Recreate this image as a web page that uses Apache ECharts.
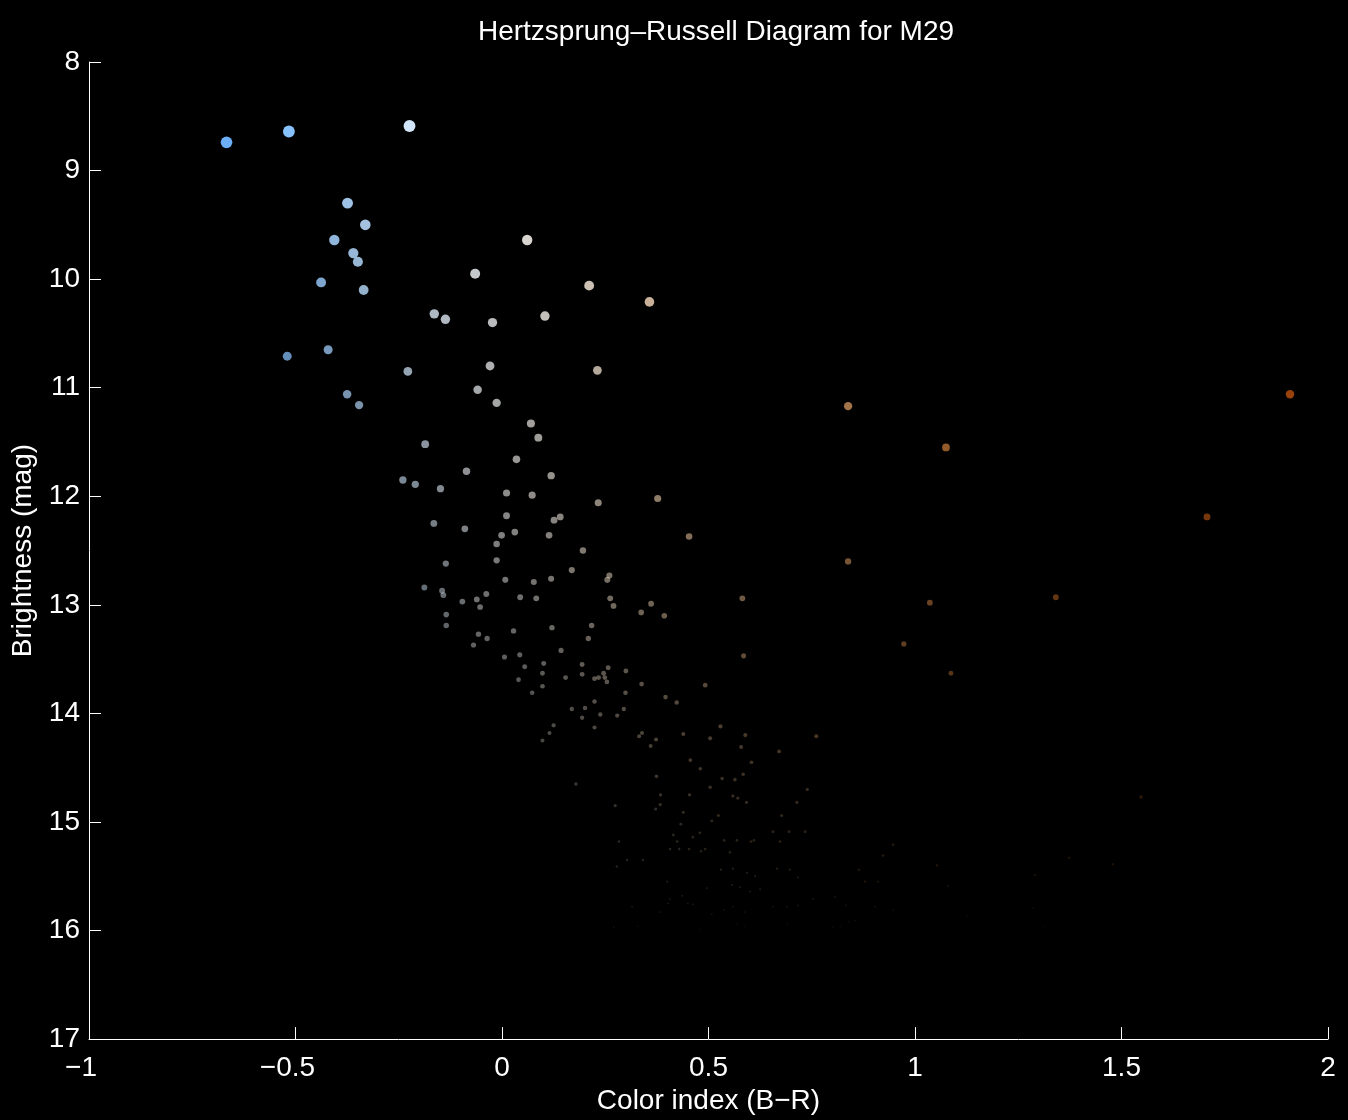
<!DOCTYPE html>
<html>
<head>
<meta charset="utf-8">
<script src="https://cdn.jsdelivr.net/npm/echarts@6/dist/echarts.min.js"></script>
<style>
html,body{margin:0;padding:0;background:#000;}
#chart{width:1348px;height:1120px;}
</style>
</head>
<body>
<div id="chart"></div>
<script>
// [B-R colour index, brightness (mag)]
const starsBright = [
  [-0.667,8.74],[-0.516,8.64],[-0.224,8.59],[-0.374,9.30],[-0.331,9.50],[-0.406,9.64],
  [-0.360,9.76],[-0.349,9.84],[-0.438,10.03],[-0.335,10.10],[0.061,9.64],[-0.065,9.95],
  [0.211,10.06],[0.357,10.21],[-0.164,10.32],[-0.137,10.37],[-0.023,10.40],[0.104,10.34],
  [-0.520,10.71],[-0.421,10.65],[-0.228,10.85],[-0.029,10.80],[0.231,10.84],[-0.375,11.06],
  [-0.346,11.16],[-0.059,11.02],[-0.013,11.14],[0.070,11.33],[0.088,11.46],[-0.186,11.52],
  [0.838,11.17],[1.075,11.55],[1.908,11.06],[1.707,12.19]
];
const starsMid = [
  [0.035,11.66],[-0.086,11.77],[0.119,11.81],[-0.240,11.85],[-0.210,11.89],[-0.149,11.93],
  [0.011,11.97],[0.073,11.99],[0.233,12.06],[0.377,12.02],[-0.165,12.25],[0.011,12.18],
  [0.141,12.19],[0.126,12.22],[-0.090,12.30],[-0.001,12.36],[0.031,12.33],[0.114,12.36],
  [0.453,12.37],[-0.013,12.44],[0.196,12.50],[-0.136,12.62],[-0.013,12.59],[0.169,12.68],
  [0.260,12.73],[0.255,12.77],[0.008,12.77],[0.077,12.79],[0.119,12.76],[-0.188,12.84],
  [-0.145,12.87],[-0.142,12.91],[-0.038,12.90],[-0.061,12.95],[-0.096,12.97],[-0.053,13.02],
  [0.044,12.93],[0.083,12.94],[0.262,12.94],[0.270,13.01],[0.361,12.99],[0.393,13.10],
  [0.337,13.07],[0.582,12.94],[-0.135,13.09],[-0.135,13.19],[-0.057,13.27],[-0.036,13.31],
  [-0.069,13.37],[0.028,13.24],[0.121,13.21],[0.217,13.19],[0.209,13.31],[0.585,13.47],
  [0.838,12.60],[1.036,12.98],[1.341,12.93],[0.973,13.36],[1.087,13.63]
];
const starsFaint = [
  [0.143,13.42],[0.006,13.48],[0.043,13.46],[0.055,13.57],[0.101,13.54],[0.098,13.63],
  [0.040,13.69],[0.098,13.75],[0.073,13.81],[0.154,13.67],[0.194,13.55],[0.194,13.64],
  [0.224,13.68],[0.234,13.67],[0.246,13.63],[0.249,13.67],[0.254,13.71],[0.257,13.58],
  [0.300,13.61],[0.299,13.81],[0.338,13.73],[0.396,13.85],[0.492,13.74],[0.423,13.90],
  [0.295,13.96],[0.279,14.02],[0.238,14.01],[0.224,13.89],[0.224,14.13],[0.201,13.95],
  [0.194,14.04],[0.169,13.96],[0.125,14.11],[0.115,14.18],[0.098,14.25],[0.529,14.12],
  [0.439,14.19],[0.504,14.23],[0.589,14.20],[0.579,14.31],[0.671,14.35],[0.761,14.21],
  [0.339,14.18],[0.332,14.21],[0.373,14.24],[0.360,14.30],[0.456,14.43],[0.480,14.51],
  [0.604,14.45],[0.584,14.56],[0.564,14.61],[0.533,14.60],[0.504,14.68],[0.374,14.58],
  [0.384,14.75],[0.383,14.84],[0.372,14.88],[0.454,14.75],[0.559,14.76],[0.571,14.78],
  [0.592,14.82],[0.739,14.70],[0.714,14.82],[0.677,14.94],[0.524,14.94],[0.439,14.91],
  [0.274,14.85],[0.179,14.65],[1.547,14.77]
];
const starsDim = [
  [0.433,15.02],[0.415,15.12],[0.424,15.18],[0.462,15.14],[0.479,15.10],[0.508,14.99],
  [0.407,15.25],[0.429,15.25],[0.453,15.25],[0.482,15.27],[0.492,15.25],[0.538,15.17],
  [0.569,15.17],[0.603,15.18],[0.610,15.17],[0.552,15.28],[0.656,15.09],[0.673,15.18],
  [0.695,15.09],[0.734,15.09],[0.283,15.18],[0.303,15.35],[0.341,15.35],[0.278,15.41],
  [0.559,15.43],[0.530,15.44],[0.593,15.47],[0.613,15.50],[0.666,15.43],[0.697,15.44],
  [0.717,15.51],[0.400,15.55],[0.496,15.61],[0.557,15.58],[0.576,15.60],[0.600,15.64],
  [0.625,15.62],[0.864,15.44],[0.879,15.55],[0.407,15.71],[0.436,15.68],[0.462,15.76],
  [0.508,15.85],[0.559,15.78],[0.588,15.83],[0.656,15.78],[0.690,15.78],[0.717,15.77],
  [0.753,15.71],[0.806,15.69],[0.833,15.77],[0.903,15.78],[0.315,15.78],[0.383,15.83],
  [0.271,15.97],[0.329,15.96],[0.479,15.99],[0.588,15.96],[0.690,15.94],[0.821,15.96],
  [0.947,15.21],[0.923,15.31],[1.053,15.40],[1.080,15.59],[1.291,15.49],[1.373,15.33],
  [1.479,15.39],[0.947,15.81],[1.126,15.87],[1.286,15.79],[1.310,15.97],[0.910,15.55],
  [0.855,15.91],[0.402,15.75],[0.450,15.75],[0.538,15.81],[0.840,15.92],[0.801,15.97],
  [0.567,15.94]
];
const xTickLabels = ['−1','−0.5','0','0.5','1','1.5','2'];
const yTickLabels = ['8','9','10','11','12','13','14','15','16','17'];
const colorStops = ['#6ab2ff','#8cc6ff','#c4e2ff','#eef4fb','#fdf8ef','#ffe8cc','#f9cc9e',
  '#f6bc84','#f2a45e','#ec8c3e','#e27a2a','#dc6e20','#dc6616','#e06010'];

const FONT = 'Liberation Sans, Arial, Helvetica, sans-serif';
const FS = 28;
const chart = echarts.init(document.getElementById('chart'), null, {renderer:'canvas'});
const allStars = [].concat(starsBright, starsMid, starsFaint, starsDim);

chart.setOption({
  backgroundColor: '#000000',
  animation: false,
  title: {
    text: 'Hertzsprung–Russell Diagram for M29',
    left: 711, top: 13, textAlign: 'center',
    textStyle: {color:'#ffffff', fontSize: FS, fontWeight:'normal', fontFamily: FONT}
  },
  grid: {left: 89, right: 20, top: 62, bottom: 80, containLabel: false},
  xAxis: {
    type: 'value', min: -1, max: 2, interval: 0.5,
    name: 'Color index (B−R)', nameLocation: 'middle', nameGap: 47,
    nameTextStyle: {color:'#ffffff', fontSize: FS, fontFamily: FONT},
    axisLine: {show: true, onZero: false, lineStyle: {color:'#ffffff', width: 1}},
    axisTick: {show: true, inside: true, length: 12, lineStyle: {color:'#ffffff'}},
    splitLine: {show: false},
    axisLabel: {
      color:'#ffffff', fontSize: FS, fontFamily: FONT, margin: 15,
      formatter: function (v) {
        const s = xTickLabels[Math.round((v + 1) / 0.5)];
        return v < 0 ? '{neg|' + s + '}' : s;
      },
      rich: {neg: {color:'#ffffff', fontSize: FS, fontFamily: FONT, padding: [0, 16, 0, 0]}}
    }
  },
  yAxis: {
    type: 'value', inverse: true, min: 8, max: 17, interval: 1,
    name: 'Brightness (mag)', nameLocation: 'middle', nameGap: 52, nameRotate: 90,
    nameTextStyle: {color:'#ffffff', fontSize: FS, fontFamily: FONT},
    axisLine: {show: true, onZero: false, lineStyle: {color:'#ffffff', width: 1}},
    axisTick: {show: true, inside: true, length: 12, lineStyle: {color:'#ffffff'}},
    splitLine: {show: false},
    axisLabel: {
      color:'#ffffff', fontSize: FS, fontFamily: FONT, margin: 9,
      formatter: function (v) { return yTickLabels[Math.round(v - 8)]; }
    }
  },
  visualMap: [
    {type:'continuous', show:false, seriesIndex:0, dimension:0, min:-0.7, max:1.92,
     inRange:{color: colorStops}},
    {type:'continuous', show:false, seriesIndex:0, dimension:1, min:8.5, max:16.05,
     inRange:{symbolSize:[12, 1.5], opacity:[1, 0.06]}}
  ],
  series: [{
    type: 'scatter',
    symbol: 'circle',
    data: allStars,
    itemStyle: {borderWidth: 0},
    emphasis: {disabled: true},
    silent: true
  }]
});
</script>
</body>
</html>
